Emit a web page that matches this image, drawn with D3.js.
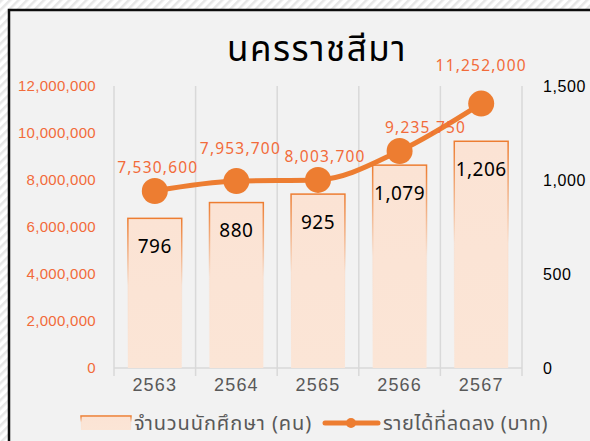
<!DOCTYPE html>
<html><head><meta charset="utf-8">
<script src="https://cdn.jsdelivr.net/npm/d3@7/dist/d3.min.js"></script>
<style>
html,body{margin:0;padding:0;background:#fff;}
svg{display:block;font-family:"Noto Sans Thai","Noto Sans",Lato,sans-serif;}
</style></head>
<body>
<svg id="c" width="590" height="441"></svg>
<script>
const years = ["2563","2564","2565","2566","2567"];
const students = [796, 880, 925, 1079, 1206];
const income = [7530600, 7953700, 8003700, 9235750, 11252000];
const leftTicks = [0, 2000000, 4000000, 6000000, 8000000, 10000000, 12000000];
const rightTicks = [0, 500, 1000, 1500];
const title = "นครราชสีมา";
const legendBar = "จำนวนนักศึกษา (คน)";
const legendLine = "รายได้ที่ลดลง (บาท)";
// manual label nudges (style, px)
const labelDx = [3, 4, 7, 26, 0];
const labelDy = [24, 33, 23, 24, 38];

const svg = d3.select("#c");
const defs = svg.append("defs");
const pat = defs.append("pattern").attr("id","hatch").attr("patternUnits","userSpaceOnUse")
  .attr("width",6).attr("height",6).attr("patternTransform","rotate(-45)");
pat.append("rect").attr("width",6).attr("height",6).attr("fill","#ffffff");
pat.append("rect").attr("width",6).attr("height",2.5).attr("fill","#e6e6e6");
const sg = defs.append("linearGradient").attr("id","barStroke").attr("x1",0).attr("y1",0).attr("x2",0).attr("y2",1);
sg.append("stop").attr("offset","0%").attr("stop-color","#ed7d31").attr("stop-opacity",1);
sg.append("stop").attr("offset","45%").attr("stop-color","#ed7d31").attr("stop-opacity",0.05);
sg.append("stop").attr("offset","100%").attr("stop-color","#ed7d31").attr("stop-opacity",0);
const fg = defs.append("linearGradient").attr("id","barFill").attr("x1",0).attr("y1",0).attr("x2",0).attr("y2",1);
fg.append("stop").attr("offset","0%").attr("stop-color","#fbe3d4");
fg.append("stop").attr("offset","100%").attr("stop-color","#fbe5d6");

svg.append("rect").attr("width",590).attr("height",441).attr("fill","url(#hatch)");
svg.append("rect").attr("x",9).attr("y",10).attr("width",600).attr("height",450)
  .attr("fill","#f2f2f2").attr("stroke","#0d0d0d").attr("stroke-width",2.5);

const m = {l:114, r:522, t:86, b:368};
const x = d3.scaleBand().domain(years).range([m.l, m.r]).paddingInner(0.34).paddingOuter(0.17);
const xc = d => x(d) + x.bandwidth()/2;
const yL = d3.scaleLinear().domain([0, 12000000]).range([m.b, m.t]);
const yR = d3.scaleLinear().domain([0, 1500]).range([m.b, m.t]);

// vertical gridlines between categories
const step = (m.r - m.l) / years.length;
const gx = d3.range(years.length + 1).map(i => m.l + i*step);
svg.append("g").selectAll("line").data(gx).join("line")
  .attr("x1", d=>d).attr("x2", d=>d).attr("y1", m.t).attr("y2", m.b + 8)
  .attr("stroke","#d9d9d9").attr("stroke-width",1.5);
svg.append("line").attr("x1",m.l).attr("x2",m.r).attr("y1",m.b).attr("y2",m.b)
  .attr("stroke","#d9d9d9").attr("stroke-width",1.5);

// left axis
const axL = svg.append("g").attr("transform",`translate(${m.l-18},0)`)
  .call(d3.axisLeft(yL).tickValues(leftTicks).tickSize(0).tickPadding(0).tickFormat(d3.format(",")));
axL.select(".domain").remove();
axL.selectAll("text").attr("fill","#f26b3a").attr("font-size",15).attr("letter-spacing",0.3);
// right axis
const axR = svg.append("g").attr("transform",`translate(${m.r+21},0)`)
  .call(d3.axisRight(yR).tickValues(rightTicks).tickSize(0).tickPadding(0).tickFormat(d3.format(",")));
axR.select(".domain").remove();
axR.selectAll("text").attr("fill","#000").attr("font-size",16).attr("letter-spacing",0.6);
// x axis
const axX = svg.append("g").attr("transform",`translate(0,${m.b+5})`)
  .call(d3.axisBottom(x).tickSize(0).tickPadding(0));
axX.select(".domain").remove();
axX.selectAll("text").attr("fill","#595959").attr("font-size",18).attr("letter-spacing",1.2).attr("dy","1.0em");

// bars
svg.append("g").selectAll("rect").data(students).join("rect")
  .attr("x",(d,i)=>x(years[i])).attr("width",x.bandwidth())
  .attr("y",d=>yR(d)).attr("height",d=>m.b - yR(d))
  .attr("fill","url(#barFill)").attr("stroke","url(#barStroke)").attr("stroke-width",1.5);
svg.append("g").selectAll("text").data(students).join("text")
  .attr("x",(d,i)=>xc(years[i])).attr("y",d=>yR(d)+28).attr("dy","0.36em")
  .attr("text-anchor","middle").attr("font-size",19).attr("letter-spacing",0.5).attr("fill","#000")
  .text(d=>d3.format(",")(d));

// line
const line = d3.line().x((d,i)=>xc(years[i])).y(d=>yL(d)).curve(d3.curveMonotoneX);
svg.append("path").datum(income).attr("d",line).attr("fill","none")
  .attr("stroke","#ed7d31").attr("stroke-width",5).attr("stroke-linecap","round");
svg.append("g").selectAll("circle").data(income).join("circle")
  .attr("cx",(d,i)=>xc(years[i])).attr("cy",d=>yL(d)).attr("r",13).attr("fill","#ed7d31");
svg.append("g").selectAll("text").data(income).join("text")
  .attr("x",(d,i)=>xc(years[i]) + labelDx[i]).attr("y",(d,i)=>yL(d)-labelDy[i]).attr("dy","0.36em")
  .attr("text-anchor","middle").attr("font-size",15.5).attr("letter-spacing",1.2).attr("fill","#f26b3a")
  .text(d=>d3.format(",")(d));

// title
svg.append("text").attr("x",317).attr("y",48).attr("dy","0.36em").attr("text-anchor","middle")
  .attr("font-size",35).attr("letter-spacing",1.5).attr("fill","#000").text(title);

// legend
const ly = 423;
svg.append("rect").attr("x",81).attr("y",ly-7).attr("width",50).attr("height",14)
  .attr("fill","url(#barFill)").attr("stroke","url(#barStroke)").attr("stroke-width",1.5);
svg.append("text").attr("x",134).attr("y",ly).attr("dy","0.36em").attr("font-size",20)
  .attr("letter-spacing",0.9).attr("fill","#595959").text(legendBar);
svg.append("line").attr("x1",325).attr("x2",378).attr("y1",ly).attr("y2",ly)
  .attr("stroke","#ed7d31").attr("stroke-width",5).attr("stroke-linecap","round");
svg.append("circle").attr("cx",351).attr("cy",ly).attr("r",5).attr("fill","#ed7d31");
svg.append("text").attr("x",383).attr("y",ly).attr("dy","0.36em").attr("font-size",20)
  .attr("letter-spacing",0.6).attr("fill","#595959").text(legendLine);
</script>
</body></html>
